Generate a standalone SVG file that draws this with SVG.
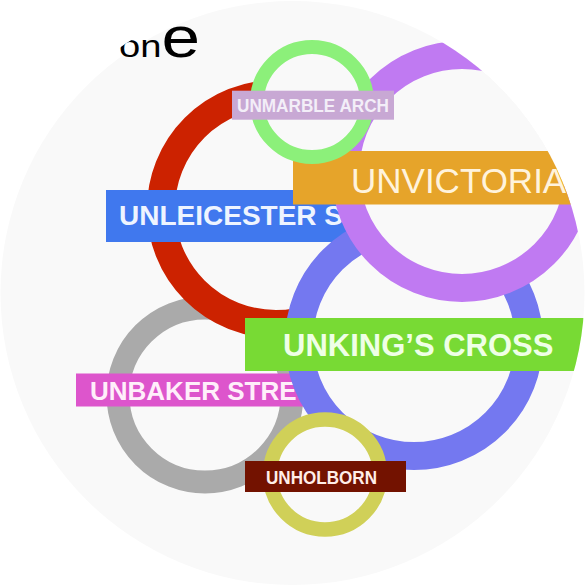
<svg xmlns="http://www.w3.org/2000/svg" width="585" height="586" viewBox="0 0 585 586">
<style>
.ring{fill:#f9f9f9}
.bar{stroke:none}
.lb{font-family:"Liberation Sans",Arial,sans-serif;font-weight:bold}
.lr{font-family:"Liberation Sans",Arial,sans-serif;font-weight:normal}
</style>
<defs>
<clipPath id="outer"><circle cx="292.5" cy="293" r="300"/></clipPath>
<clipPath id="disc"><circle cx="292.5" cy="293" r="292"/></clipPath>
</defs>
<rect width="585" height="586" fill="#ffffff"/>
<g clip-path="url(#outer)">
<circle cx="292.5" cy="293" r="292" fill="#f9f9f9"/>
<text class="lr" x="119" y="57" fill="#000000" textLength="81" lengthAdjust="spacingAndGlyphs"><tspan font-size="32">on</tspan><tspan font-size="58">e</tspan></text>
<g clip-path="url(#disc)">
<g id="connectors"/>
<g id="baker-street">
<circle class="ring" cx="205" cy="395" r="87" stroke="#aaaaaa" stroke-width="23"/>
<rect class="bar" x="76" y="373.5" width="240" height="33" fill="#dd55cc"/>
<text class="lb" x="90" y="400" font-size="26" fill="#ffeefa">UNBAKER STRE</text>
</g>
<g id="leicester-square">
<circle class="ring" cx="276" cy="209" r="115" stroke="#cc2200" stroke-width="28"/>
<rect class="bar" x="106" y="190" width="250" height="52" fill="#4078ee"/>
<text class="lb" x="119" y="224.5" font-size="28" fill="#eef4ff">UNLEICESTER S</text>
</g>
<g id="kings-cross">
<circle class="ring" cx="414" cy="341" r="115" stroke="#7478f0" stroke-width="28"/>
<rect class="bar" x="245" y="318" width="345" height="53" fill="#78da34"/>
<text class="lb" x="283" y="355.5" font-size="31" fill="#efffe6">UNKING’S CROSS</text>
</g>
<g id="victoria">
<circle class="ring" cx="462" cy="171.5" r="116.5" stroke="#c07af2" stroke-width="28"/>
<rect class="bar" x="293" y="151" width="300" height="53.5" fill="#e6a42a"/>
<text class="lr" x="351" y="193" font-size="35" fill="#fff3dc">UNVICTORIA</text>
</g>
<g id="marble-arch">
<circle class="ring" cx="312" cy="102" r="55" stroke="#8cf07a" stroke-width="14"/>
<rect class="bar" x="232" y="90.7" width="162" height="29" fill="#c8a8d4"/>
<text class="lb" x="237" y="111.5" font-size="18" fill="#f3eef8" textLength="152" lengthAdjust="spacingAndGlyphs">UNMARBLE ARCH</text>
</g>
<g id="holborn">
<circle class="ring" cx="325" cy="474.5" r="55" stroke="#d0d058" stroke-width="14.5"/>
<rect class="bar" x="245" y="461" width="161" height="31" fill="#731200"/>
<text class="lb" x="266" y="483.5" font-size="17.5" fill="#ffeee8" textLength="111" lengthAdjust="spacingAndGlyphs">UNHOLBORN</text>
</g>
</g>
</g>
</svg>
